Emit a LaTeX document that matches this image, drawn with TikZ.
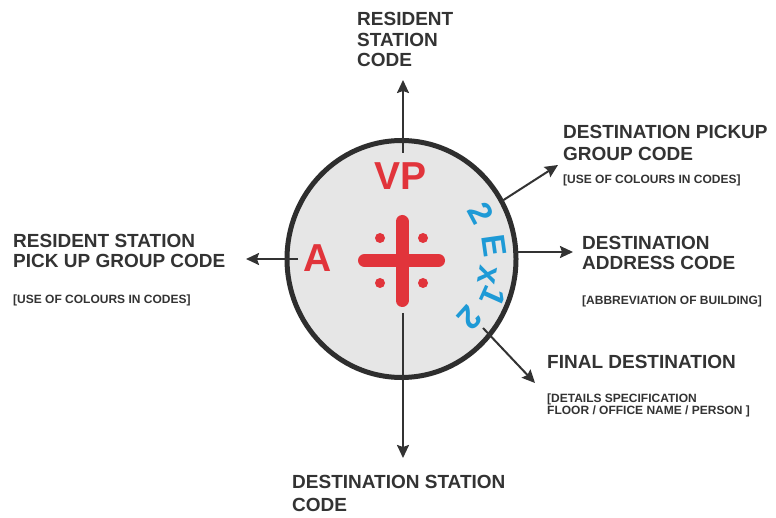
\documentclass[tikz,border=0pt]{standalone}
\usepackage{fontspec}
\setmainfont{Liberation Sans}
\usetikzlibrary{arrows.meta,shapes.geometric}
\definecolor{ink}{HTML}{333333}
\definecolor{rimgray}{HTML}{2E2E2E}
\definecolor{discfill}{HTML}{E6E6E6}
\definecolor{codered}{HTML}{E1343B}
\definecolor{codeblue}{HTML}{1E9AD6}
\tikzset{
  biglbl/.style={anchor=base west, inner sep=0pt, align=left, text=ink,
    font=\bfseries\fontsize{19}{#1}\selectfont},
  biglbl/.default=20.5,
  smalllbl/.style={anchor=base west, inner sep=0pt, align=left, text=ink,
    font=\bfseries\fontsize{12}{12}\selectfont},
  conn/.style={draw=ink, line width=2pt, -{Stealth[length=13pt,width=12pt,inset=2pt]}},
  redcode/.style={anchor=base, inner sep=0pt, text=codered,
    font=\bfseries\fontsize{39}{39}\selectfont},
  bluech/.style={inner sep=0pt, text=codeblue,
    font=\bfseries\fontsize{33}{33}\selectfont},
  crossbar/.style={draw=codered, line width=13pt, line cap=round},
  crossdot/.style={fill=codered, draw=none}
}
\begin{document}
\begin{tikzpicture}[x=1pt,y=-1pt]
\useasboundingbox[fill=white] (0,0) rectangle (776,518);

% disc
\node[ellipse, draw=rimgray, fill=discfill, line width=5pt, inner sep=0pt,
      minimum width=229pt, minimum height=237pt] (disc) at (401.5,259) {};

% connector endpoints
\coordinate (topS) at (403,153);   \coordinate (topT) at (403,80);
\coordinate (botS) at (403,313);   \coordinate (botT) at (403,458);
\coordinate (lefS) at (298,259);   \coordinate (lefT) at (246,259);
\coordinate (rigS) at (513,252);   \coordinate (rigT) at (573,252);
\coordinate (urS)  at (502,201);   \coordinate (urT)  at (558,165);
\coordinate (lrS)  at (483,328);   \coordinate (lrT)  at (535,383);

\draw[conn] (topS) -- (topT);
\draw[conn] (botS) -- (botT);
\draw[conn] (lefS) -- (lefT);
\draw[conn] (rigS) -- (rigT);
\draw[conn] (urS) -- (urT);
\draw[conn] (lrS) -- (lrT);

% cross and dots
\coordinate (hA) at (364.5,260.5); \coordinate (hB) at (438.5,260.5);
\coordinate (vA) at (402,221.5);   \coordinate (vB) at (402,300.5);
\draw[crossbar] (hA) -- (hB);
\draw[crossbar] (vA) -- (vB);
\fill[crossdot] (380,238) circle[radius=5pt];
\fill[crossdot] (423,238) circle[radius=5pt];
\fill[crossdot] (380,283) circle[radius=5pt];
\fill[crossdot] (423,283) circle[radius=5pt];

% red codes
\node[redcode] (vp) at (400.5,190) {VP};
\node[redcode] (acode) at (318,272) {A};

% blue code along the rim
\node[bluech, rotate=-62]  (b1) at (481,213) {2};
\node[bluech, rotate=-82]  (b2) at (494,246) {E};
\node[bluech, rotate=-100] (b3) at (487,275) {x};
\node[bluech, rotate=-114] (b4) at (493,297) {1};
\node[bluech, rotate=-132] (b5) at (470,318) {2};

% labels (anchored at the baseline of the last line)
\node[biglbl=20.4] (lTop) at (357,66.7) {RESIDENT\\STATION\\CODE};
\node[biglbl=20] (lLeft) at (13,267.3) {RESIDENT STATION\\PICK UP GROUP CODE};
\node[smalllbl] (sLeft) at (13,303.5) {[USE OF COLOURS IN CODES]};
\node[biglbl=21.7] (lUR) at (563,160.7) {DESTINATION PICKUP\\GROUP CODE};
\node[smalllbl] (sUR) at (563,184) {[USE OF COLOURS IN CODES]};
\node[biglbl=20] (lMid) at (582,269.3) {DESTINATION\\ADDRESS CODE};
\node[smalllbl] (sMid) at (582,305) {[ABBREVIATION OF BUILDING]};
\node[biglbl] (lFin) at (547,368.3) {FINAL DESTINATION};
\node[smalllbl] (sFin) at (547,414.5) {[DETAILS SPECIFICATION\\FLOOR / OFFICE NAME / PERSON ]};
\node[biglbl=23.4] (lBot) at (292,511.7) {DESTINATION STATION\\CODE};
\end{tikzpicture}
\end{document}
